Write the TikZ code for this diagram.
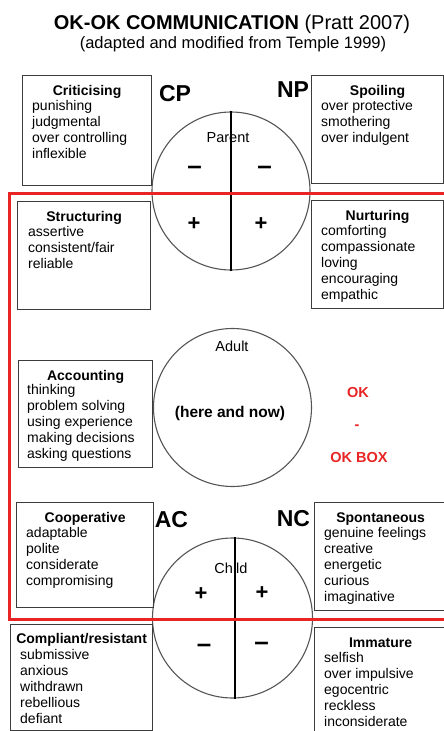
\documentclass[tikz,border=0pt]{standalone}
\usepackage{fontspec}
\setmainfont{Liberation Sans}
\usepackage{tikz}
\usetikzlibrary{positioning}
\definecolor{okRed}{RGB}{232,36,36}
\definecolor{frameGray}{RGB}{60,60,60}
\definecolor{egoGray}{RGB}{85,85,85}
\newcommand{\firstline}{\rule{0pt}{10.2pt}}

\begin{document}
\begin{tikzpicture}[x=1pt,y=-1pt,
  frame/.style={rectangle,draw=frameGray,line width=1.2pt,anchor=north west,inner sep=0pt},
  head/.style={anchor=base,inner sep=0pt,font=\fontsize{14}{16}\selectfont\bfseries},
  body/.style={anchor=north west,inner sep=0pt,align=left,font=\fontsize{14}{16}\selectfont},
  ego/.style={circle,draw=egoGray,line width=1.1pt,minimum size=158pt,inner sep=0pt},
  split/.style={line width=1.6pt,black},
  egolabel/.style={inner sep=0pt,font=\fontsize{23}{23}\selectfont\bfseries},
  egotext/.style={inner sep=0pt,font=\fontsize{14.5}{16}\selectfont},
  minus/.style={anchor=base,inner sep=0pt,font=\fontsize{26}{26}\selectfont\bfseries},
  plus/.style={anchor=base,inner sep=0pt,font=\fontsize{22}{22}\selectfont\bfseries},
  oktext/.style={inner sep=0pt,text=okRed,font=\fontsize{14.5}{16}\selectfont\bfseries},
  okbox/.style={draw=okRed,line width=3pt}
]
  \useasboundingbox (0,0) rectangle (444,731);
  \clip (0,0) rectangle (444,731);

  % title
  \node[anchor=base,inner sep=0pt,font=\fontsize{20}{22}\selectfont] (title) at (232,29.5)
       {\textbf{OK-OK COMMUNICATION} (Pratt 2007)};
  \node[anchor=base,inner sep=0pt,font=\fontsize{16.5}{18}\selectfont] (subtitle) at (233,48.5)
       {(adapted and modified from Temple 1999)};

  % ego states
  \node[ego] (parent) at (231,191) {};
  \node[ego] (adult)  at (232.5,407.5) {};
  \node[ego,minimum size=160pt] (child) at (232.5,618) {};
  \draw[split] (parent.north) -- (parent.south);
  \draw[split] ([xshift=2.5pt]child.north) -- ([xshift=2.5pt]child.south);

  \node[egotext] (parentT) at (228,138) {Parent};
  \node[egotext] (adultT)  at (232,346) {Adult};
  \node[egotext,anchor=base,font=\fontsize{15.5}{17}\selectfont\bfseries] (adultN) at (230,417) {(here and now)};
  \node[egotext] (childT)  at (231,568) {Child};

  \node[minus] (cpMinus) at (194.5,174.2) {–};
  \node[minus] (npMinus) at (264.5,174.2) {–};
  \node[plus]  (cpPlus)  at (194,230.7) {+};
  \node[plus]  (npPlus)  at (261,230.7) {+};
  \node[plus]  (acPlus)  at (201,600.7) {+};
  \node[plus]  (ncPlus)  at (262,599.7) {+};
  \node[minus] (acMinus) at (204,652.2) {–};
  \node[minus] (ncMinus) at (261.5,650.2) {–};

  \node[egolabel] (cp) at (175,93.5) {CP};
  \node[egolabel] (np) at (293,90) {NP};
  \node[egolabel] (ac) at (171.5,520) {AC};
  \node[egolabel] (nc) at (293.5,518.5) {NC};

  % behaviour boxes
  \node[frame,minimum width=129pt,minimum height=110pt] (crit) at (22,75) {};
  \node[head] (critH) at ([yshift=-20pt]crit.north) {Criticising};
  \node[body] (critB) at ([xshift=10pt,yshift=-25pt]crit.north west)
       {\firstline punishing\\judgmental\\over controlling\\inflexible};

  \node[frame,minimum width=132pt,minimum height=108pt] (spoil) at (311,75) {};
  \node[head] (spoilH) at ([yshift=-20pt]spoil.north) {Spoiling};
  \node[body] (spoilB) at ([xshift=10pt,yshift=-25pt]spoil.north west)
       {\firstline over protective\\smothering\\over indulgent};

  \node[frame,minimum width=133pt,minimum height=108pt] (struct) at (17,201) {};
  \node[head] (structH) at ([yshift=-20pt]struct.north) {Structuring};
  \node[body] (structB) at ([xshift=11pt,yshift=-25pt]struct.north west)
       {\firstline assertive\\consistent/fair\\reliable};

  \node[frame,minimum width=132pt,minimum height=108pt] (nurt) at (311,200) {};
  \node[head] (nurtH) at ([yshift=-20pt]nurt.north) {Nurturing};
  \node[body] (nurtB) at ([xshift=10pt,yshift=-25pt]nurt.north west)
       {\firstline comforting\\compassionate\\loving\\encouraging\\empathic};

  \node[frame,minimum width=134pt,minimum height=107pt] (acct) at (18,360) {};
  \node[head] (acctH) at ([yshift=-20pt]acct.north) {Accounting};
  \node[body] (acctB) at ([xshift=9pt,yshift=-24pt]acct.north west)
       {\firstline thinking\\problem solving\\using experience\\making decisions\\asking questions};

  \node[frame,minimum width=137pt,minimum height=105pt] (coop) at (16,502) {};
  \node[head] (coopH) at ([yshift=-20pt]coop.north) {Cooperative};
  \node[body] (coopB) at ([xshift=10pt,yshift=-25pt]coop.north west)
       {\firstline adaptable\\polite\\considerate\\compromising};

  \node[frame,minimum width=132pt,minimum height=108pt] (spont) at (314,502) {};
  \node[head] (spontH) at ([yshift=-20pt]spont.north) {Spontaneous};
  \node[body] (spontB) at ([xshift=10pt,yshift=-25pt]spont.north west)
       {\firstline genuine feelings\\creative\\energetic\\curious\\imaginative};

  \node[frame,minimum width=142pt,minimum height=106pt] (compl) at (10,624) {};
  \node[head] (complH) at ([yshift=-19pt]compl.north) {Compliant/resistant};
  \node[body] (complB) at ([xshift=10pt,yshift=-25pt]compl.north west)
       {\firstline submissive\\anxious\\withdrawn\\rebellious\\defiant};

  \node[frame,minimum width=132pt,minimum height=112pt] (immat) at (314,627) {};
  \node[head] (immatH) at ([yshift=-20pt]immat.north) {Immature};
  \node[body] (immatB) at ([xshift=10pt,yshift=-25pt]immat.north west)
       {\firstline selfish\\over impulsive\\egocentric\\reckless\\inconsiderate};

  % OK-OK box
  \draw[okbox] (9,193) rectangle (452,619);
  \node[oktext] (ok)    at (358,392.5) {OK};
  \node[oktext] (okDash) at (357,427) {-};
  \node[oktext] (okBox) at (359,457.5) {OK BOX};
\end{tikzpicture}
\end{document}
